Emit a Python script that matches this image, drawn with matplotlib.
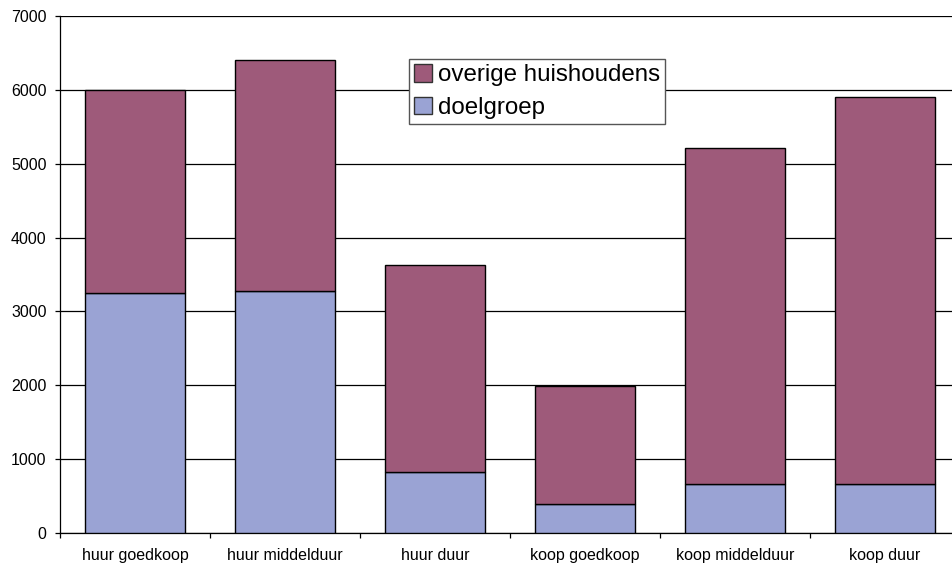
import matplotlib
matplotlib.use("Agg")
import matplotlib.pyplot as plt
import numpy as np

plt.rcParams['font.family'] = ['Liberation Sans', 'DejaVu Sans']

categories = ["huur goedkoop", "huur middelduur", "huur duur",
              "koop goedkoop", "koop middelduur", "koop duur"]
doelgroep = [3250, 3270, 820, 390, 670, 670]
overige = [2750, 3140, 2810, 1600, 4540, 5230]

col_doel = "#9AA3D4"
col_over = "#9E5A7A"

fig = plt.figure(figsize=(9.52, 5.65), dpi=100)
# axes extend slightly past the right edge of the canvas
ax = fig.add_axes([60 / 952, 32 / 565, 900 / 952, 517 / 565])

x = np.arange(len(categories))
w = 0.667
ax.bar(x, doelgroep, width=w, color=col_doel, edgecolor="black", linewidth=1.0,
       label="doelgroep", zorder=3)
ax.bar(x, overige, width=w, bottom=doelgroep, color=col_over, edgecolor="black",
       linewidth=1.0, label="overige huishoudens", zorder=3)

ax.set_xlim(-0.5, len(categories) - 0.5)
ax.set_ylim(0, 7000)
ax.set_yticks(np.arange(0, 7001, 1000))
ax.yaxis.grid(True, color="black", linewidth=0.9)
ax.set_axisbelow(True)

ax.set_xticks(x)
ax.set_xticklabels(categories, fontsize=11.5)
ax.set_xticks(np.arange(-0.5, len(categories) + 0.5, 1), minor=True)
ax.tick_params(axis="x", which="major", length=0, pad=11)
ax.tick_params(axis="x", which="minor", length=3.6, direction="out", width=0.9)
ax.tick_params(axis="y", length=3.6, direction="out", width=0.9, labelsize=11.5, pad=6)

for s in ["top", "right"]:
    ax.spines[s].set_visible(False)
ax.spines["left"].set_linewidth(0.9)
ax.spines["bottom"].set_linewidth(0.9)

handles, labels = ax.get_legend_handles_labels()
leg = ax.legend(handles[::-1], labels[::-1], loc="upper left",
                bbox_to_anchor=((409 - 60) / 900, (533 - 59) / 517),
                fontsize=17.4, frameon=True, fancybox=False, framealpha=1,
                edgecolor="#555555", handlelength=0.75, handleheight=0.75,
                handletextpad=0.25, borderpad=0.21, labelspacing=0.42,
                borderaxespad=0)
leg.get_frame().set_linewidth(1.0)
for p in leg.get_patches():
    p.set_edgecolor("#333333")

fig.savefig("out.png", dpi=100)
